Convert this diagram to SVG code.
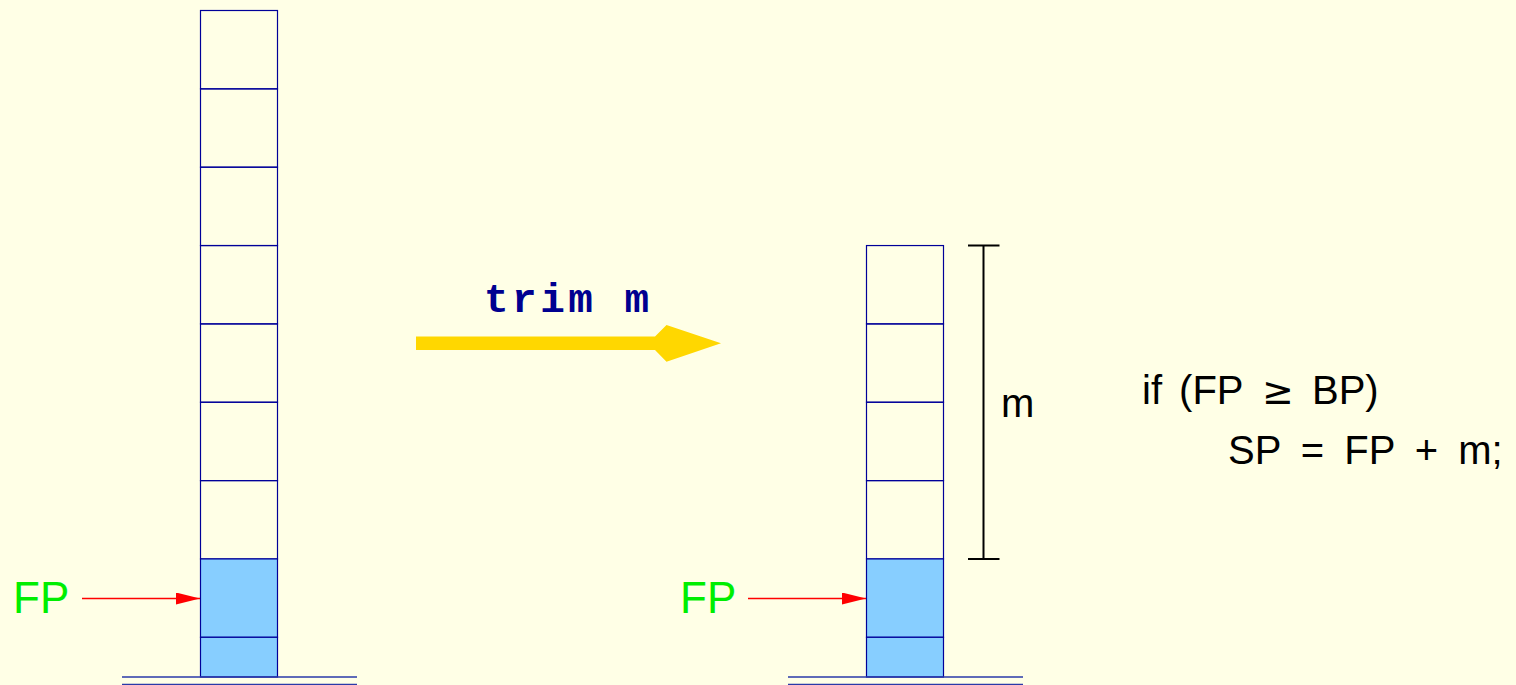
<svg xmlns="http://www.w3.org/2000/svg" width="1516" height="685" viewBox="0 0 1516 685">
<style>
.cell{fill:none;stroke:#000099;stroke-width:1.2}
.blue{fill:#87CEFF;stroke:#000099;stroke-width:1.2}
.base{stroke:#2a3aa8;stroke-width:1.6;fill:none}
.fp{font-family:"Liberation Sans",Arial,sans-serif;font-size:44px;fill:#00EE00}
.red{stroke:#FF0000;stroke-width:1.5;fill:none}
.txt{font-family:"Liberation Sans",Arial,sans-serif;font-size:40px;fill:#000000}
.code{font-family:"Liberation Mono","Courier New",monospace;font-weight:bold;font-size:41px;letter-spacing:3.5px;fill:#000090}
</style>
<defs>
<marker id="ah" markerWidth="24" markerHeight="12" refX="24" refY="6" orient="auto" markerUnits="userSpaceOnUse">
<path d="M0,0 L24,6 L0,12 Z" fill="#FF0000"/>
</marker>
</defs>
<rect width="1516" height="685" fill="#FFFFE6"/>
<g id="stack-left">
<rect class="cell" x="200.5" y="10.5" width="77" height="78.35"/>
<rect class="cell" x="200.5" y="88.85" width="77" height="78.35"/>
<rect class="cell" x="200.5" y="167.2" width="77" height="78.35"/>
<rect class="cell" x="200.5" y="245.55" width="77" height="78.35"/>
<rect class="cell" x="200.5" y="323.9" width="77" height="78.35"/>
<rect class="cell" x="200.5" y="402.25" width="77" height="78.35"/>
<rect class="cell" x="200.5" y="480.6" width="77" height="78.35"/>
<rect class="blue" x="200.5" y="558.95" width="77" height="78.35"/>
<rect class="blue" x="200.5" y="637.3" width="77" height="39.7"/>
</g>
<g id="base-left">
<line class="base" x1="122" y1="677" x2="357" y2="677"/>
<line class="base" x1="122" y1="684.5" x2="357" y2="684.5"/>
</g>
<g id="stack-right">
<rect class="cell" x="866.5" y="245.55" width="77" height="78.35"/>
<rect class="cell" x="866.5" y="323.9" width="77" height="78.35"/>
<rect class="cell" x="866.5" y="402.25" width="77" height="78.35"/>
<rect class="cell" x="866.5" y="480.6" width="77" height="78.35"/>
<rect class="blue" x="866.5" y="558.95" width="77" height="78.35"/>
<rect class="blue" x="866.5" y="637.3" width="77" height="39.7"/>
</g>
<g id="base-right">
<line class="base" x1="788" y1="677" x2="1023" y2="677"/>
<line class="base" x1="788" y1="684.5" x2="1023" y2="684.5"/>
</g>
<g id="fp-left"><text class="fp" x="13" y="613">FP</text></g>
<g id="fp-right"><text class="fp" x="680" y="613">FP</text></g>
<g id="trim-label"><text class="code" x="484" y="312">trim m</text></g>
<g id="bracket">
<line x1="983.5" y1="245.5" x2="983.5" y2="559" stroke="#000" stroke-width="2"/>
<line x1="968" y1="245.5" x2="999.5" y2="245.5" stroke="#000" stroke-width="2"/>
<line x1="968" y1="559" x2="999.5" y2="559" stroke="#000" stroke-width="2"/>
<text class="txt" x="1001" y="417">m</text>
</g>
<g id="code-text">
<text class="txt" y="404"><tspan x="1142" word-spacing="6">if (FP</tspan><tspan x="1262" font-family="DejaVu Sans, sans-serif" font-size="38">≥</tspan><tspan x="1312">BP)</tspan></text>
<text class="txt" x="1228" y="464" word-spacing="9">SP = FP + m;</text>
</g>
<g id="connectors">
<line class="red" x1="82" y1="598.5" x2="200" y2="598.5" marker-end="url(#ah)"/>
<line class="red" x1="748" y1="598.5" x2="866" y2="598.5" marker-end="url(#ah)"/>
<path d="M416,336.5 L655,336.5 L666.5,325 L721,343.3 L666.5,361.7 L655,350 L416,350 Z" fill="#FFD700"/>
</g>
</svg>
